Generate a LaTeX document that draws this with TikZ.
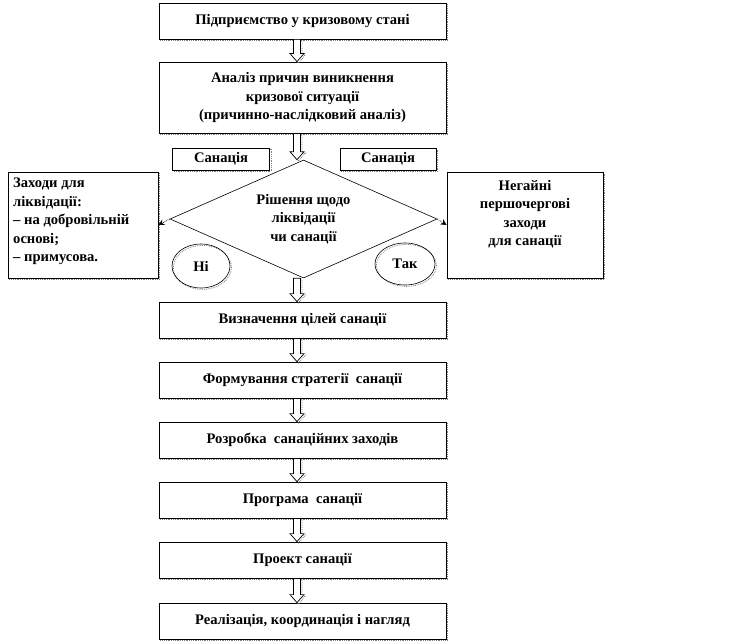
\documentclass[tikz,border=0pt]{standalone}
\usepackage{fontspec}
\setmainfont{Liberation Serif}
\usetikzlibrary{shapes.geometric,arrows.meta,calc}
\begin{document}
\begin{tikzpicture}[x=1pt,y=-1pt,
  font=\bfseries\fontsize{14.6}{18.5}\selectfont,
  shadowed/.style={preaction={draw=gray, densely dotted, line width=0.8pt, transform canvas={xshift=1.4pt,yshift=-1.4pt}}},
  box/.style={draw, line width=0.8pt, fill=white, inner sep=0pt, minimum width=287pt, minimum height=36pt, align=center, shadowed},
  smallbox/.style={draw, line width=0.8pt, fill=white, inner sep=0pt, minimum height=22pt, align=center, shadowed},
  sidebox/.style={draw, line width=0.8pt, fill=white, inner sep=0pt, minimum height=106pt, shadowed},
  decision/.style={diamond, draw, line width=0.6pt, inner sep=0pt, aspect=2.26, minimum width=267pt, minimum height=118pt, align=center},
  answer/.style={ellipse, draw, line width=0.6pt, inner sep=0pt, shadowed},
  txt/.style={inner sep=0pt},
  barrow/.style={draw, line width=0.7pt, fill=white, shadowed,
    to path={let \p1=(\tikztostart), \p2=(\tikztotarget) in
      (\x1-3.5pt,\y1) -- (\x1+3.5pt,\y1) -- (\x1+3.5pt,\y2+8pt) -- (\x1+7pt,\y2+8pt)
      -- (\x1,\y2) -- (\x1-7pt,\y2+8pt) -- (\x1-3.5pt,\y2+8pt) -- cycle}},
  sidearrow/.style={densely dotted, line width=0.7pt, -{Stealth[length=6pt,width=6pt,sep=0pt]}}
]
\useasboundingbox (0,0) rectangle (741,642);

\node[box] (b1) at (302.5,21) {Підприємство у кризовому стані};
\node[box, minimum height=71pt] (b2) at (302.5,97.5) {Аналіз причин виникнення\\кризової ситуації\\(причинно-наслідковий аналіз)};

\node[smallbox, minimum width=97pt] (s1) at (221,159) {Санація};
\node[smallbox, minimum width=96pt] (s2) at (388,159) {Санація};

\node[decision] (dm) at (303.5,219) {Рішення щодо\\ліквідації\\чи санації};

\node[sidebox, minimum width=150pt] (lb) at (83,225) {};
\node[txt, anchor=west, align=left] (lt) at (13,221.5) {Заходи для\\ліквідації:\\– на добровільній\\основі;\\– примусова.};
\node[sidebox, minimum width=156pt] (rb) at (525,225) {};
\node[txt, align=center] (rt) at (525,214) {Негайні\\першочергові\\заходи\\для санації};

\node[answer, minimum width=58pt, minimum height=44pt] (no) at (201,266) {Ні};
\node[answer, minimum width=60pt, minimum height=42pt] (yes) at (405,264) {Так};

\node[box] (c1) at (302.5,320) {Визначення цілей санації};
\node[box] (c2) at (302.5,380) {Формування стратегії\ \ санації};
\node[box] (c3) at (302.5,440) {Розробка\ \ санаційних заходів};
\node[box] (c4) at (302.5,500) {Програма\ \ санації};
\node[box] (c5) at (302.5,560) {Проект санації};
\node[box] (c6) at (302.5,621) {Реалізація, координація і нагляд};

\draw[sidearrow] (dm.west) -- (lb.east);
\draw[sidearrow] (dm.east) -- (rb.west);

\path[barrow] ([xshift=-5.5pt]b1.south) to (b2.north);
\path[barrow] ([xshift=-5.5pt]b2.south) to (dm.north);
\path[barrow] ([xshift=-6.5pt]dm.south) to (c1.north);
\path[barrow] ([xshift=-5.5pt]c1.south) to (c2.north);
\path[barrow] ([xshift=-5.5pt]c2.south) to (c3.north);
\path[barrow] ([xshift=-5.5pt]c3.south) to (c4.north);
\path[barrow] ([xshift=-5.5pt]c4.south) to (c5.north);
\path[barrow] ([xshift=-5.5pt]c5.south) to (c6.north);
\end{tikzpicture}
\end{document}
